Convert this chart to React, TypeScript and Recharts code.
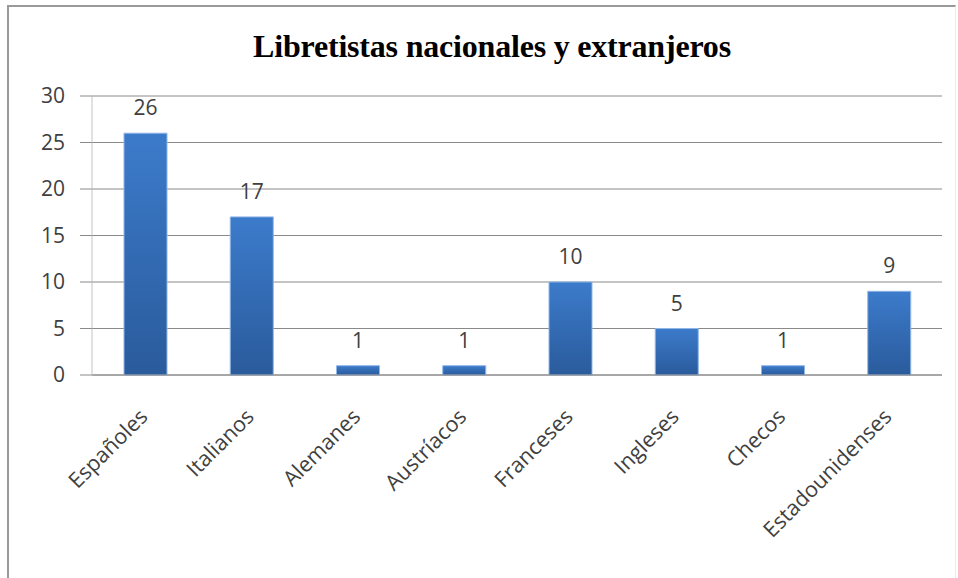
import { BarChart, Bar, XAxis, YAxis, CartesianGrid, LabelList } from 'recharts';

const categories = [
  'Españoles',
  'Italianos',
  'Alemanes',
  'Austríacos',
  'Franceses',
  'Ingleses',
  'Checos',
  'Estadounidenses',
];
const counts = [26, 17, 1, 1, 10, 5, 1, 9];
const yTicks = [0, 5, 10, 15, 20, 25, 30];

const data = categories.map((name, i) => ({ name, count: counts[i] }));

const FONT = '"Open Sans", sans-serif';
const TEXT = '#404040';

function AngledTick({ x, y, payload }: any) {
  // Excel-style labels rotated 45°, anchored at their end near the bar
  const ax = x + 4;
  const ay = y + 35;
  return (
    <text
      x={ax}
      y={ay}
      transform={`rotate(-45, ${ax}, ${ay})`}
      textAnchor="end"
      fill={TEXT}
      fontSize={21.5}
      fontFamily={FONT}
    >
      {payload.value}
    </text>
  );
}

export default function App() {
  return (
    <div
      style={{
        position: 'absolute',
        left: 0,
        top: 0,
        width: 958,
        height: 578,
        background: '#fff',
        overflow: 'hidden',
      }}
    >
      <div
        style={{
          position: 'absolute',
          left: 7,
          top: 5,
          width: 946,
          height: 620,
          borderLeft: '2px solid #9a9a9a',
          borderTop: '2px solid #9a9a9a',
          borderRight: '1px solid #ececec',
        }}
      />
      <div
        style={{
          position: 'absolute',
          left: 0,
          top: 28,
          width: 984,
          textAlign: 'center',
          fontFamily: '"Liberation Serif", serif',
          fontWeight: 'bold',
          fontSize: 32,
          color: '#000',
          letterSpacing: -0.2,
        }}
      >
        Libretistas nacionales y extranjeros
      </div>
      <div style={{ position: 'absolute', left: 0, top: 0 }}>
        <BarChart
          width={958}
          height={578}
          data={data}
          margin={{ top: 96, right: 16, left: 32, bottom: 53 }}
        >
          <defs>
            <linearGradient id="barFill" x1="0" y1="0" x2="0" y2="1">
              <stop offset="0%" stopColor="#3c7bcb" />
              <stop offset="100%" stopColor="#2a5b9c" />
            </linearGradient>
          </defs>
          <CartesianGrid vertical={false} stroke="#8a8a8a" />
          <XAxis
            dataKey="name"
            height={150}
            interval={0}
            tickLine={false}
            axisLine={{ stroke: '#8a8a8a' }}
            tick={<AngledTick />}
          />
          <YAxis
            domain={[0, 30]}
            ticks={yTicks}
            width={60}
            tickSize={12}
            tickMargin={15}
            tickLine={{ stroke: '#8a8a8a' }}
            axisLine={{ stroke: '#c4c4c4' }}
            tick={{ fill: TEXT, fontSize: 21, fontFamily: FONT }}
          />
          <Bar
            dataKey="count"
            barSize={43}
            fill="url(#barFill)"
            stroke="#8fb6e6"
            strokeWidth={1}
            isAnimationActive={false}
          >
            <LabelList
              dataKey="count"
              position="top"
              offset={18}
              fill={TEXT}
              fontSize={21}
              fontFamily={FONT}
            />
          </Bar>
        </BarChart>
      </div>
    </div>
  );
}
